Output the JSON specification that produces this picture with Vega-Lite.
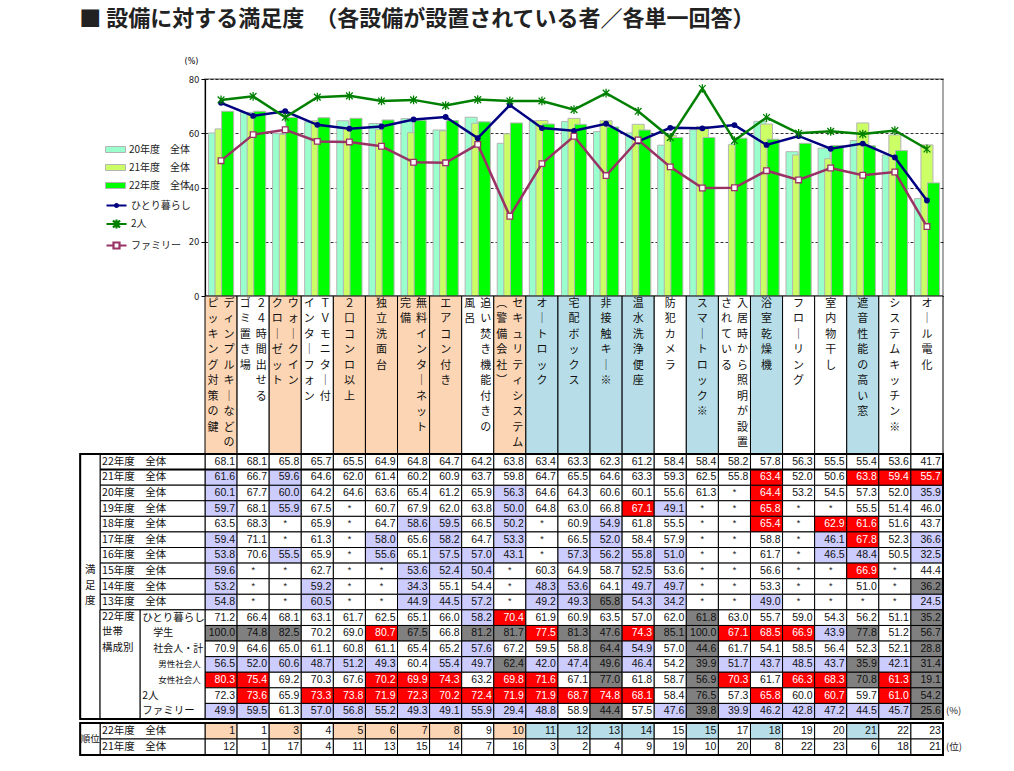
{
"$schema": "https://vega.github.io/schema/vega-lite/v6.json",
"background": "white",
"padding": {"left": 79, "top": 8, "right": 5, "bottom": 5},
"title": {"text": "■ 設備に対する満足度　（各設備が設置されている者／各単一回答）", "anchor": "start", "fontSize": 22, "fontWeight": "bold", "font": "Noto Sans CJK JP", "color": "#222222", "offset": 25},
"config": {"font": "Noto Sans CJK JP", "view": {"stroke": null}},
"spacing": 0,
"bounds": "flush",
"resolve": {"scale": {"x": "independent", "y": "independent", "color": "independent", "fill": "independent", "stroke": "independent", "shape": "independent"}, "legend": {"color": "independent", "fill": "independent", "stroke": "independent", "shape": "independent"}},
"datasets": {
"cats": [
{"c":1,"grp":"A","r":"ディンプルキーなどの","l":"ピッキング対策の鍵"},
{"c":2,"grp":"C","r":"２４時間出せる","l":"ゴミ置き場"},
{"c":3,"grp":"A","r":"ウォークイン","l":"クローゼット"},
{"c":4,"grp":"C","r":"ＴＶモニター付","l":"インターフォン"},
{"c":5,"grp":"A","s":"２口コンロ以上"},
{"c":6,"grp":"A","s":"独立洗面台"},
{"c":7,"grp":"A","r":"無料インターネット","l":"完備"},
{"c":8,"grp":"A","s":"エアコン付き"},
{"c":9,"grp":"C","r":"追い焚き機能付きの","l":"風呂"},
{"c":10,"grp":"A","r":"セキュリティシステム","l":"（警備会社）"},
{"c":11,"grp":"B","s":"オートロック"},
{"c":12,"grp":"B","s":"宅配ボックス"},
{"c":13,"grp":"B","s":"非接触キー※"},
{"c":14,"grp":"B","s":"温水洗浄便座"},
{"c":15,"grp":"C","s":"防犯カメラ"},
{"c":16,"grp":"B","s":"スマートロック※"},
{"c":17,"grp":"C","r":"入居時から照明が設置","l":"されている"},
{"c":18,"grp":"B","s":"浴室乾燥機"},
{"c":19,"grp":"C","s":"フローリング"},
{"c":20,"grp":"C","s":"室内物干し"},
{"c":21,"grp":"B","s":"遮音性能の高い窓"},
{"c":22,"grp":"C","s":"システムキッチン※"},
{"c":23,"grp":"C","s":"オール電化"}
],
"rowdefs": [
{"row":"22年度　全体","kind":"yr"},{"row":"21年度　全体","kind":"yr"},{"row":"20年度　全体","kind":"yr"},{"row":"19年度　全体","kind":"yr"},{"row":"18年度　全体","kind":"yr"},{"row":"17年度　全体","kind":"yr"},{"row":"16年度　全体","kind":"yr"},{"row":"15年度　全体","kind":"yr"},{"row":"14年度　全体","kind":"yr"},{"row":"13年度　全体","kind":"yr"},
{"row":"ひとり暮らし","kind":"h0"},{"row":"学生","kind":"h1"},{"row":"社会人・計","kind":"h1"},{"row":"男性社会人","kind":"h2"},{"row":"女性社会人","kind":"h2"},{"row":"2人","kind":"h0"},{"row":"ファミリー","kind":"h0"}
],
"rank": [
{"c":1,"yr":"22年度　全体","v":1},{"c":2,"yr":"22年度　全体","v":1},{"c":3,"yr":"22年度　全体","v":3},{"c":4,"yr":"22年度　全体","v":4},{"c":5,"yr":"22年度　全体","v":5},{"c":6,"yr":"22年度　全体","v":6},{"c":7,"yr":"22年度　全体","v":7},{"c":8,"yr":"22年度　全体","v":8},{"c":9,"yr":"22年度　全体","v":9},{"c":10,"yr":"22年度　全体","v":10},{"c":11,"yr":"22年度　全体","v":11},{"c":12,"yr":"22年度　全体","v":12},{"c":13,"yr":"22年度　全体","v":13},{"c":14,"yr":"22年度　全体","v":14},{"c":15,"yr":"22年度　全体","v":15},{"c":16,"yr":"22年度　全体","v":15},{"c":17,"yr":"22年度　全体","v":17},{"c":18,"yr":"22年度　全体","v":18},{"c":19,"yr":"22年度　全体","v":19},{"c":20,"yr":"22年度　全体","v":20},{"c":21,"yr":"22年度　全体","v":21},{"c":22,"yr":"22年度　全体","v":22},{"c":23,"yr":"22年度　全体","v":23},
{"c":1,"yr":"21年度　全体","v":12},{"c":2,"yr":"21年度　全体","v":1},{"c":3,"yr":"21年度　全体","v":17},{"c":4,"yr":"21年度　全体","v":4},{"c":5,"yr":"21年度　全体","v":11},{"c":6,"yr":"21年度　全体","v":13},{"c":7,"yr":"21年度　全体","v":15},{"c":8,"yr":"21年度　全体","v":14},{"c":9,"yr":"21年度　全体","v":7},{"c":10,"yr":"21年度　全体","v":16},{"c":11,"yr":"21年度　全体","v":3},{"c":12,"yr":"21年度　全体","v":2},{"c":13,"yr":"21年度　全体","v":4},{"c":14,"yr":"21年度　全体","v":9},{"c":15,"yr":"21年度　全体","v":19},{"c":16,"yr":"21年度　全体","v":10},{"c":17,"yr":"21年度　全体","v":20},{"c":18,"yr":"21年度　全体","v":8},{"c":19,"yr":"21年度　全体","v":22},{"c":20,"yr":"21年度　全体","v":23},{"c":21,"yr":"21年度　全体","v":6},{"c":22,"yr":"21年度　全体","v":18},{"c":23,"yr":"21年度　全体","v":21}
],
"sat": [
{"c":1,"row":"20年度　全体","v":60.1,"f":"l"},{"c":2,"row":"20年度　全体","v":67.7},{"c":3,"row":"20年度　全体","v":60.0,"f":"l"},{"c":4,"row":"20年度　全体","v":64.2},{"c":5,"row":"20年度　全体","v":64.6},{"c":6,"row":"20年度　全体","v":63.6},{"c":7,"row":"20年度　全体","v":65.4},{"c":8,"row":"20年度　全体","v":61.2},{"c":9,"row":"20年度　全体","v":65.9},{"c":10,"row":"20年度　全体","v":56.3,"f":"l"},{"c":11,"row":"20年度　全体","v":64.6},{"c":12,"row":"20年度　全体","v":64.3},{"c":13,"row":"20年度　全体","v":60.6},{"c":14,"row":"20年度　全体","v":60.1},{"c":15,"row":"20年度　全体","v":55.6},{"c":16,"row":"20年度　全体","v":61.3},{"c":17,"row":"20年度　全体","v":null},{"c":18,"row":"20年度　全体","v":64.4,"f":"r"},{"c":19,"row":"20年度　全体","v":53.2},{"c":20,"row":"20年度　全体","v":54.5},{"c":21,"row":"20年度　全体","v":57.3},{"c":22,"row":"20年度　全体","v":52.0},{"c":23,"row":"20年度　全体","v":35.9,"f":"l"},
{"c":1,"row":"21年度　全体","v":61.6,"f":"l"},{"c":2,"row":"21年度　全体","v":66.7},{"c":3,"row":"21年度　全体","v":59.6,"f":"l"},{"c":4,"row":"21年度　全体","v":64.6},{"c":5,"row":"21年度　全体","v":62.0},{"c":6,"row":"21年度　全体","v":61.4},{"c":7,"row":"21年度　全体","v":60.2},{"c":8,"row":"21年度　全体","v":60.9},{"c":9,"row":"21年度　全体","v":63.7},{"c":10,"row":"21年度　全体","v":59.8},{"c":11,"row":"21年度　全体","v":64.7},{"c":12,"row":"21年度　全体","v":65.5},{"c":13,"row":"21年度　全体","v":64.6},{"c":14,"row":"21年度　全体","v":63.3},{"c":15,"row":"21年度　全体","v":59.3},{"c":16,"row":"21年度　全体","v":62.5},{"c":17,"row":"21年度　全体","v":55.8},{"c":18,"row":"21年度　全体","v":63.4,"f":"r"},{"c":19,"row":"21年度　全体","v":52.0},{"c":20,"row":"21年度　全体","v":50.6},{"c":21,"row":"21年度　全体","v":63.8,"f":"r"},{"c":22,"row":"21年度　全体","v":59.4,"f":"r"},{"c":23,"row":"21年度　全体","v":55.7,"f":"r"},
{"c":1,"row":"22年度　全体","v":68.1},{"c":2,"row":"22年度　全体","v":68.1},{"c":3,"row":"22年度　全体","v":65.8},{"c":4,"row":"22年度　全体","v":65.7},{"c":5,"row":"22年度　全体","v":65.5},{"c":6,"row":"22年度　全体","v":64.9},{"c":7,"row":"22年度　全体","v":64.8},{"c":8,"row":"22年度　全体","v":64.7},{"c":9,"row":"22年度　全体","v":64.2},{"c":10,"row":"22年度　全体","v":63.8},{"c":11,"row":"22年度　全体","v":63.4},{"c":12,"row":"22年度　全体","v":63.3},{"c":13,"row":"22年度　全体","v":62.3},{"c":14,"row":"22年度　全体","v":61.2},{"c":15,"row":"22年度　全体","v":58.4},{"c":16,"row":"22年度　全体","v":58.4},{"c":17,"row":"22年度　全体","v":58.2},{"c":18,"row":"22年度　全体","v":57.8},{"c":19,"row":"22年度　全体","v":56.3},{"c":20,"row":"22年度　全体","v":55.5},{"c":21,"row":"22年度　全体","v":55.4},{"c":22,"row":"22年度　全体","v":53.6},{"c":23,"row":"22年度　全体","v":41.7},
{"c":1,"row":"19年度　全体","v":59.7,"f":"l"},{"c":2,"row":"19年度　全体","v":68.1},{"c":3,"row":"19年度　全体","v":55.9,"f":"l"},{"c":4,"row":"19年度　全体","v":67.5},{"c":5,"row":"19年度　全体","v":null},{"c":6,"row":"19年度　全体","v":60.7},{"c":7,"row":"19年度　全体","v":67.9},{"c":8,"row":"19年度　全体","v":62.0},{"c":9,"row":"19年度　全体","v":63.8},{"c":10,"row":"19年度　全体","v":50.0,"f":"l"},{"c":11,"row":"19年度　全体","v":64.8},{"c":12,"row":"19年度　全体","v":63.0},{"c":13,"row":"19年度　全体","v":66.8},{"c":14,"row":"19年度　全体","v":67.1,"f":"r"},{"c":15,"row":"19年度　全体","v":49.1,"f":"l"},{"c":16,"row":"19年度　全体","v":null},{"c":17,"row":"19年度　全体","v":null},{"c":18,"row":"19年度　全体","v":65.8,"f":"r"},{"c":19,"row":"19年度　全体","v":null},{"c":20,"row":"19年度　全体","v":null},{"c":21,"row":"19年度　全体","v":55.5},{"c":22,"row":"19年度　全体","v":51.4},{"c":23,"row":"19年度　全体","v":46.0},
{"c":1,"row":"18年度　全体","v":63.5},{"c":2,"row":"18年度　全体","v":68.3},{"c":3,"row":"18年度　全体","v":null},{"c":4,"row":"18年度　全体","v":65.9},{"c":5,"row":"18年度　全体","v":null},{"c":6,"row":"18年度　全体","v":64.7},{"c":7,"row":"18年度　全体","v":58.6,"f":"l"},{"c":8,"row":"18年度　全体","v":59.5,"f":"l"},{"c":9,"row":"18年度　全体","v":66.5},{"c":10,"row":"18年度　全体","v":50.2,"f":"l"},{"c":11,"row":"18年度　全体","v":null},{"c":12,"row":"18年度　全体","v":60.9},{"c":13,"row":"18年度　全体","v":54.9,"f":"l"},{"c":14,"row":"18年度　全体","v":61.8},{"c":15,"row":"18年度　全体","v":55.5},{"c":16,"row":"18年度　全体","v":null},{"c":17,"row":"18年度　全体","v":null},{"c":18,"row":"18年度　全体","v":65.4,"f":"r"},{"c":19,"row":"18年度　全体","v":null},{"c":20,"row":"18年度　全体","v":62.9,"f":"r"},{"c":21,"row":"18年度　全体","v":61.6,"f":"r"},{"c":22,"row":"18年度　全体","v":51.6},{"c":23,"row":"18年度　全体","v":43.7},
{"c":1,"row":"17年度　全体","v":59.4,"f":"l"},{"c":2,"row":"17年度　全体","v":71.1},{"c":3,"row":"17年度　全体","v":null},{"c":4,"row":"17年度　全体","v":61.3},{"c":5,"row":"17年度　全体","v":null},{"c":6,"row":"17年度　全体","v":58.0,"f":"l"},{"c":7,"row":"17年度　全体","v":65.6},{"c":8,"row":"17年度　全体","v":58.2,"f":"l"},{"c":9,"row":"17年度　全体","v":64.7},{"c":10,"row":"17年度　全体","v":53.3,"f":"l"},{"c":11,"row":"17年度　全体","v":null},{"c":12,"row":"17年度　全体","v":66.5},{"c":13,"row":"17年度　全体","v":52.0,"f":"l"},{"c":14,"row":"17年度　全体","v":58.4},{"c":15,"row":"17年度　全体","v":57.9},{"c":16,"row":"17年度　全体","v":null},{"c":17,"row":"17年度　全体","v":null},{"c":18,"row":"17年度　全体","v":58.8},{"c":19,"row":"17年度　全体","v":null},{"c":20,"row":"17年度　全体","v":46.1,"f":"l"},{"c":21,"row":"17年度　全体","v":67.8,"f":"r"},{"c":22,"row":"17年度　全体","v":52.3},{"c":23,"row":"17年度　全体","v":36.6,"f":"l"},
{"c":1,"row":"16年度　全体","v":53.8,"f":"l"},{"c":2,"row":"16年度　全体","v":70.6},{"c":3,"row":"16年度　全体","v":55.5,"f":"l"},{"c":4,"row":"16年度　全体","v":65.9},{"c":5,"row":"16年度　全体","v":null},{"c":6,"row":"16年度　全体","v":55.6,"f":"l"},{"c":7,"row":"16年度　全体","v":65.1},{"c":8,"row":"16年度　全体","v":57.5,"f":"l"},{"c":9,"row":"16年度　全体","v":57.0,"f":"l"},{"c":10,"row":"16年度　全体","v":43.1,"f":"l"},{"c":11,"row":"16年度　全体","v":null},{"c":12,"row":"16年度　全体","v":57.3,"f":"l"},{"c":13,"row":"16年度　全体","v":56.2,"f":"l"},{"c":14,"row":"16年度　全体","v":55.8,"f":"l"},{"c":15,"row":"16年度　全体","v":51.0,"f":"l"},{"c":16,"row":"16年度　全体","v":null},{"c":17,"row":"16年度　全体","v":null},{"c":18,"row":"16年度　全体","v":61.7},{"c":19,"row":"16年度　全体","v":null},{"c":20,"row":"16年度　全体","v":46.5,"f":"l"},{"c":21,"row":"16年度　全体","v":48.4,"f":"l"},{"c":22,"row":"16年度　全体","v":50.5},{"c":23,"row":"16年度　全体","v":32.5,"f":"l"},
{"c":1,"row":"15年度　全体","v":59.6,"f":"l"},{"c":2,"row":"15年度　全体","v":null},{"c":3,"row":"15年度　全体","v":null},{"c":4,"row":"15年度　全体","v":62.7},{"c":5,"row":"15年度　全体","v":null},{"c":6,"row":"15年度　全体","v":null},{"c":7,"row":"15年度　全体","v":53.6,"f":"l"},{"c":8,"row":"15年度　全体","v":52.4,"f":"l"},{"c":9,"row":"15年度　全体","v":50.4,"f":"l"},{"c":10,"row":"15年度　全体","v":null},{"c":11,"row":"15年度　全体","v":60.3},{"c":12,"row":"15年度　全体","v":64.9},{"c":13,"row":"15年度　全体","v":58.7},{"c":14,"row":"15年度　全体","v":52.5,"f":"l"},{"c":15,"row":"15年度　全体","v":53.6},{"c":16,"row":"15年度　全体","v":null},{"c":17,"row":"15年度　全体","v":null},{"c":18,"row":"15年度　全体","v":56.6},{"c":19,"row":"15年度　全体","v":null},{"c":20,"row":"15年度　全体","v":null},{"c":21,"row":"15年度　全体","v":66.9,"f":"r"},{"c":22,"row":"15年度　全体","v":null},{"c":23,"row":"15年度　全体","v":44.4},
{"c":1,"row":"14年度　全体","v":53.2,"f":"l"},{"c":2,"row":"14年度　全体","v":null},{"c":3,"row":"14年度　全体","v":null},{"c":4,"row":"14年度　全体","v":59.2,"f":"l"},{"c":5,"row":"14年度　全体","v":null},{"c":6,"row":"14年度　全体","v":null},{"c":7,"row":"14年度　全体","v":34.3,"f":"l"},{"c":8,"row":"14年度　全体","v":55.1},{"c":9,"row":"14年度　全体","v":54.4},{"c":10,"row":"14年度　全体","v":null},{"c":11,"row":"14年度　全体","v":48.3,"f":"l"},{"c":12,"row":"14年度　全体","v":53.6,"f":"l"},{"c":13,"row":"14年度　全体","v":64.1},{"c":14,"row":"14年度　全体","v":49.7,"f":"l"},{"c":15,"row":"14年度　全体","v":49.7,"f":"l"},{"c":16,"row":"14年度　全体","v":null},{"c":17,"row":"14年度　全体","v":null},{"c":18,"row":"14年度　全体","v":53.3},{"c":19,"row":"14年度　全体","v":null},{"c":20,"row":"14年度　全体","v":null},{"c":21,"row":"14年度　全体","v":51.0},{"c":22,"row":"14年度　全体","v":null},{"c":23,"row":"14年度　全体","v":36.2,"f":"g"},
{"c":1,"row":"13年度　全体","v":54.8,"f":"l"},{"c":2,"row":"13年度　全体","v":null},{"c":3,"row":"13年度　全体","v":null},{"c":4,"row":"13年度　全体","v":60.5,"f":"l"},{"c":5,"row":"13年度　全体","v":null},{"c":6,"row":"13年度　全体","v":null},{"c":7,"row":"13年度　全体","v":44.9,"f":"l"},{"c":8,"row":"13年度　全体","v":44.5,"f":"l"},{"c":9,"row":"13年度　全体","v":57.2,"f":"l"},{"c":10,"row":"13年度　全体","v":null},{"c":11,"row":"13年度　全体","v":49.2,"f":"l"},{"c":12,"row":"13年度　全体","v":49.3,"f":"l"},{"c":13,"row":"13年度　全体","v":65.8,"f":"g"},{"c":14,"row":"13年度　全体","v":54.3,"f":"l"},{"c":15,"row":"13年度　全体","v":34.2,"f":"l"},{"c":16,"row":"13年度　全体","v":null},{"c":17,"row":"13年度　全体","v":null},{"c":18,"row":"13年度　全体","v":49.0,"f":"l"},{"c":19,"row":"13年度　全体","v":null},{"c":20,"row":"13年度　全体","v":null},{"c":21,"row":"13年度　全体","v":null},{"c":22,"row":"13年度　全体","v":null},{"c":23,"row":"13年度　全体","v":24.5,"f":"l"},
{"c":1,"row":"ひとり暮らし","v":71.2},{"c":2,"row":"ひとり暮らし","v":66.4},{"c":3,"row":"ひとり暮らし","v":68.1},{"c":4,"row":"ひとり暮らし","v":63.1},{"c":5,"row":"ひとり暮らし","v":61.7},{"c":6,"row":"ひとり暮らし","v":62.5},{"c":7,"row":"ひとり暮らし","v":65.1},{"c":8,"row":"ひとり暮らし","v":66.0},{"c":9,"row":"ひとり暮らし","v":58.2,"f":"l"},{"c":10,"row":"ひとり暮らし","v":70.4,"f":"r"},{"c":11,"row":"ひとり暮らし","v":61.9},{"c":12,"row":"ひとり暮らし","v":60.9},{"c":13,"row":"ひとり暮らし","v":63.5},{"c":14,"row":"ひとり暮らし","v":57.0},{"c":15,"row":"ひとり暮らし","v":62.0},{"c":16,"row":"ひとり暮らし","v":61.8,"f":"g"},{"c":17,"row":"ひとり暮らし","v":63.0},{"c":18,"row":"ひとり暮らし","v":55.7},{"c":19,"row":"ひとり暮らし","v":59.0},{"c":20,"row":"ひとり暮らし","v":54.3},{"c":21,"row":"ひとり暮らし","v":56.2},{"c":22,"row":"ひとり暮らし","v":51.1},{"c":23,"row":"ひとり暮らし","v":35.2,"f":"g"},
{"c":1,"row":"学生","v":100.0,"f":"g"},{"c":2,"row":"学生","v":74.8,"f":"g"},{"c":3,"row":"学生","v":82.5,"f":"g"},{"c":4,"row":"学生","v":70.2},{"c":5,"row":"学生","v":69.0},{"c":6,"row":"学生","v":80.7,"f":"r"},{"c":7,"row":"学生","v":67.5,"f":"g"},{"c":8,"row":"学生","v":66.8},{"c":9,"row":"学生","v":81.2,"f":"g"},{"c":10,"row":"学生","v":81.7,"f":"g"},{"c":11,"row":"学生","v":77.5,"f":"r"},{"c":12,"row":"学生","v":81.3,"f":"g"},{"c":13,"row":"学生","v":47.6,"f":"g"},{"c":14,"row":"学生","v":74.3,"f":"r"},{"c":15,"row":"学生","v":85.1,"f":"g"},{"c":16,"row":"学生","v":100.0,"f":"g"},{"c":17,"row":"学生","v":67.1,"f":"r"},{"c":18,"row":"学生","v":68.5,"f":"r"},{"c":19,"row":"学生","v":66.9,"f":"r"},{"c":20,"row":"学生","v":43.9,"f":"l"},{"c":21,"row":"学生","v":77.8,"f":"g"},{"c":22,"row":"学生","v":51.2},{"c":23,"row":"学生","v":56.7,"f":"g"},
{"c":1,"row":"社会人・計","v":70.9},{"c":2,"row":"社会人・計","v":64.6},{"c":3,"row":"社会人・計","v":65.0},{"c":4,"row":"社会人・計","v":61.1},{"c":5,"row":"社会人・計","v":60.8},{"c":6,"row":"社会人・計","v":61.1},{"c":7,"row":"社会人・計","v":65.4},{"c":8,"row":"社会人・計","v":65.2},{"c":9,"row":"社会人・計","v":57.6,"f":"l"},{"c":10,"row":"社会人・計","v":67.2},{"c":11,"row":"社会人・計","v":59.5},{"c":12,"row":"社会人・計","v":58.8},{"c":13,"row":"社会人・計","v":64.4,"f":"g"},{"c":14,"row":"社会人・計","v":54.9,"f":"l"},{"c":15,"row":"社会人・計","v":57.0},{"c":16,"row":"社会人・計","v":44.6,"f":"g"},{"c":17,"row":"社会人・計","v":61.7},{"c":18,"row":"社会人・計","v":54.1},{"c":19,"row":"社会人・計","v":58.5},{"c":20,"row":"社会人・計","v":56.4},{"c":21,"row":"社会人・計","v":52.3},{"c":22,"row":"社会人・計","v":52.1},{"c":23,"row":"社会人・計","v":28.8,"f":"g"},
{"c":1,"row":"男性社会人","v":56.5,"f":"l"},{"c":2,"row":"男性社会人","v":52.0,"f":"l"},{"c":3,"row":"男性社会人","v":60.6,"f":"l"},{"c":4,"row":"男性社会人","v":48.7,"f":"l"},{"c":5,"row":"男性社会人","v":51.2,"f":"l"},{"c":6,"row":"男性社会人","v":49.3,"f":"l"},{"c":7,"row":"男性社会人","v":60.4},{"c":8,"row":"男性社会人","v":55.4,"f":"l"},{"c":9,"row":"男性社会人","v":49.7,"f":"l"},{"c":10,"row":"男性社会人","v":62.4,"f":"g"},{"c":11,"row":"男性社会人","v":42.0,"f":"l"},{"c":12,"row":"男性社会人","v":47.4,"f":"l"},{"c":13,"row":"男性社会人","v":49.6,"f":"g"},{"c":14,"row":"男性社会人","v":46.4,"f":"l"},{"c":15,"row":"男性社会人","v":54.2},{"c":16,"row":"男性社会人","v":39.9,"f":"g"},{"c":17,"row":"男性社会人","v":51.7,"f":"l"},{"c":18,"row":"男性社会人","v":43.7,"f":"l"},{"c":19,"row":"男性社会人","v":48.5,"f":"l"},{"c":20,"row":"男性社会人","v":43.7,"f":"l"},{"c":21,"row":"男性社会人","v":35.9,"f":"g"},{"c":22,"row":"男性社会人","v":42.1,"f":"l"},{"c":23,"row":"男性社会人","v":31.4,"f":"g"},
{"c":1,"row":"女性社会人","v":80.3,"f":"r"},{"c":2,"row":"女性社会人","v":75.4,"f":"r"},{"c":3,"row":"女性社会人","v":69.2},{"c":4,"row":"女性社会人","v":70.3},{"c":5,"row":"女性社会人","v":67.6},{"c":6,"row":"女性社会人","v":70.2,"f":"r"},{"c":7,"row":"女性社会人","v":69.9,"f":"r"},{"c":8,"row":"女性社会人","v":74.3,"f":"r"},{"c":9,"row":"女性社会人","v":63.2},{"c":10,"row":"女性社会人","v":69.8,"f":"r"},{"c":11,"row":"女性社会人","v":71.6,"f":"r"},{"c":12,"row":"女性社会人","v":67.1},{"c":13,"row":"女性社会人","v":77.0,"f":"g"},{"c":14,"row":"女性社会人","v":61.8},{"c":15,"row":"女性社会人","v":58.7},{"c":16,"row":"女性社会人","v":56.9,"f":"g"},{"c":17,"row":"女性社会人","v":70.3,"f":"r"},{"c":18,"row":"女性社会人","v":61.7},{"c":19,"row":"女性社会人","v":66.3,"f":"r"},{"c":20,"row":"女性社会人","v":68.3,"f":"r"},{"c":21,"row":"女性社会人","v":70.8,"f":"g"},{"c":22,"row":"女性社会人","v":61.3,"f":"r"},{"c":23,"row":"女性社会人","v":19.1,"f":"g"},
{"c":1,"row":"2人","v":72.3},{"c":2,"row":"2人","v":73.6,"f":"r"},{"c":3,"row":"2人","v":65.9},{"c":4,"row":"2人","v":73.3,"f":"r"},{"c":5,"row":"2人","v":73.8,"f":"r"},{"c":6,"row":"2人","v":71.9,"f":"r"},{"c":7,"row":"2人","v":72.3,"f":"r"},{"c":8,"row":"2人","v":70.2,"f":"r"},{"c":9,"row":"2人","v":72.4,"f":"r"},{"c":10,"row":"2人","v":71.9,"f":"r"},{"c":11,"row":"2人","v":71.9,"f":"r"},{"c":12,"row":"2人","v":68.7,"f":"r"},{"c":13,"row":"2人","v":74.8,"f":"r"},{"c":14,"row":"2人","v":68.1,"f":"r"},{"c":15,"row":"2人","v":58.4},{"c":16,"row":"2人","v":76.5,"f":"g"},{"c":17,"row":"2人","v":57.3},{"c":18,"row":"2人","v":65.8,"f":"r"},{"c":19,"row":"2人","v":60.0},{"c":20,"row":"2人","v":60.7,"f":"r"},{"c":21,"row":"2人","v":59.7},{"c":22,"row":"2人","v":61.0,"f":"r"},{"c":23,"row":"2人","v":54.2,"f":"g"},
{"c":1,"row":"ファミリー","v":49.9,"f":"l"},{"c":2,"row":"ファミリー","v":59.5,"f":"l"},{"c":3,"row":"ファミリー","v":61.3},{"c":4,"row":"ファミリー","v":57.0,"f":"l"},{"c":5,"row":"ファミリー","v":56.8,"f":"l"},{"c":6,"row":"ファミリー","v":55.2,"f":"l"},{"c":7,"row":"ファミリー","v":49.3,"f":"l"},{"c":8,"row":"ファミリー","v":49.1,"f":"l"},{"c":9,"row":"ファミリー","v":55.9,"f":"l"},{"c":10,"row":"ファミリー","v":29.4,"f":"l"},{"c":11,"row":"ファミリー","v":48.8,"f":"l"},{"c":12,"row":"ファミリー","v":58.9},{"c":13,"row":"ファミリー","v":44.4,"f":"g"},{"c":14,"row":"ファミリー","v":57.5},{"c":15,"row":"ファミリー","v":47.6,"f":"l"},{"c":16,"row":"ファミリー","v":39.8,"f":"g"},{"c":17,"row":"ファミリー","v":39.9,"f":"l"},{"c":18,"row":"ファミリー","v":46.2,"f":"l"},{"c":19,"row":"ファミリー","v":42.8,"f":"l"},{"c":20,"row":"ファミリー","v":47.2,"f":"l"},{"c":21,"row":"ファミリー","v":44.5,"f":"l"},{"c":22,"row":"ファミリー","v":45.7,"f":"l"},{"c":23,"row":"ファミリー","v":25.6,"f":"g"}
]
},
"vconcat": [
{
"width": 738, "height": 217,
"view": {"stroke": "#8c8c8c", "strokeWidth": 1.5},
"data": {"name": "sat"},
"layer": [
{"transform": [{"filter": {"field": "row", "oneOf": ["20年度　全体", "21年度　全体", "22年度　全体"]}}, {"filter": "isValid(datum.v)"}],
 "mark": {"type": "bar", "width": 12, "stroke": "#b4b4b4", "strokeWidth": 1},
 "encoding": {
  "x": {"field": "c", "type": "ordinal", "scale": {"domain": [1,2,3,4,5,6,7,8,9,10,11,12,13,14,15,16,17,18,19,20,21,22,23], "paddingInner": 0.1, "paddingOuter": 0.05}, "axis": {"labels": false, "ticks": false, "title": null, "domainColor": "#000000", "domainWidth": 1.2}},
  "xOffset": {"field": "row", "type": "nominal", "scale": {"domain": ["20年度　全体", "21年度　全体", "22年度　全体"], "paddingInner": 0, "paddingOuter": 0.69}},
  "y": {"field": "v", "type": "quantitative", "stack": null, "scale": {"domain": [0, 80], "nice": false},
        "axis": {"values": [0, 20, 40, 60, 80], "title": "(%)", "titleAngle": 0, "titleAlign": "center", "titleBaseline": "bottom", "titleX": -14, "titleY": -14, "titleFontSize": 8, "titleFontWeight": "normal", "titleFont": "DejaVu Sans", "labelFont": "DejaVu Sans", "labelFontSize": 8.5, "labelColor": "#222222", "tickSize": 4, "tickColor": "#000000", "domainColor": "#000000", "domainWidth": 1.2, "grid": true, "gridColor": "#000000", "gridDash": [3, 2], "gridWidth": 0.8, "labelPadding": 2}},
  "fill": {"field": "row", "type": "nominal", "scale": {"domain": ["20年度　全体", "21年度　全体", "22年度　全体"], "range": ["#99ffcc", "#ccff66", "#00ff00"]},
           "legend": {"title": null, "orient": "none", "legendX": -100, "legendY": 60, "symbolType": "M-1,-0.3H1V0.3H-1Z", "symbolSize": 400, "symbolStrokeColor": "#b4b4b4", "symbolStrokeWidth": 1, "labelFontSize": 10, "labelColor": "#222222", "labelOffset": 3, "rowPadding": 2}}
 }},
{"transform": [{"filter": {"field": "row", "oneOf": ["ひとり暮らし", "2人", "ファミリー"]}}],
 "mark": {"type": "line", "strokeWidth": 2.5},
 "encoding": {
  "x": {"field": "c", "type": "ordinal"},
  "y": {"field": "v", "type": "quantitative"},
  "stroke": {"field": "row", "type": "nominal", "scale": {"domain": ["ひとり暮らし", "2人", "ファミリー"], "range": ["#000080", "#008000", "#993366"]},
             "legend": {"title": null, "orient": "none", "legendX": -100, "legendY": 115, "symbolSize": 400, "symbolStrokeWidth": 2.2, "symbolFillColor": "transparent", "labelFontSize": 10, "labelColor": "#222222", "labelOffset": 3, "rowPadding": 0.5}}
 }},
{"transform": [{"filter": "false"}],
 "mark": {"type": "point", "filled": false, "opacity": 1},
 "encoding": {
  "x": {"field": "c", "type": "ordinal"},
  "y": {"field": "v", "type": "quantitative"},
  "stroke": {"field": "row", "type": "nominal",
             "legend": {"title": null, "orient": "none", "legendX": -100, "legendY": 115, "symbolSize": 400, "symbolStrokeWidth": 2.2, "symbolFillColor": "transparent", "labelFontSize": 10, "labelColor": "#222222", "labelOffset": 3, "rowPadding": 0.5}},
  "shape": {"field": "row", "type": "nominal", "scale": {"domain": ["ひとり暮らし", "2人", "ファミリー"], "range": ["M-1,0H1M-0.15,0A0.15,0.15 0 1 1 0.15,0A0.15,0.15 0 1 1 -0.15,0", "M-1,0H1M-0.35,-0.35L0.35,0.35M-0.35,0.35L0.35,-0.35M0,-0.45V0.45", "M-1,0H-0.3M0.3,0H1M-0.3,-0.3H0.3V0.3H-0.3Z"]},
            "legend": {"title": null, "orient": "none", "legendX": -100, "legendY": 115, "symbolSize": 400, "symbolStrokeWidth": 2.2, "symbolFillColor": "transparent", "labelFontSize": 10, "labelColor": "#222222", "labelOffset": 3, "rowPadding": 0.5}}
 }},
{"transform": [{"filter": "datum.row === 'ひとり暮らし'"}],
 "mark": {"type": "point", "shape": "circle", "filled": true, "color": "#000080", "size": 34, "opacity": 1},
 "encoding": {"x": {"field": "c", "type": "ordinal"}, "y": {"field": "v", "type": "quantitative"}}},
{"transform": [{"filter": "datum.row === '2人'"}],
 "mark": {"type": "point", "shape": "M-1,-1L1,1M-1,1L1,-1M0,-1.3V1.3", "filled": false, "stroke": "#008000", "strokeWidth": 1.3, "size": 45, "opacity": 1},
 "encoding": {"x": {"field": "c", "type": "ordinal"}, "y": {"field": "v", "type": "quantitative"}}},
{"transform": [{"filter": "datum.row === 'ファミリー'"}],
 "mark": {"type": "point", "shape": "square", "filled": true, "fill": "#ffffff", "stroke": "#993366", "strokeWidth": 1.3, "size": 32, "opacity": 1},
 "encoding": {"x": {"field": "c", "type": "ordinal"}, "y": {"field": "v", "type": "quantitative"}}}
]
},
{
"width": 738, "height": 158,
"data": {"name": "cats"},
"layer": [
{"mark": {"type": "rect", "stroke": "#000000", "strokeWidth": 1},
 "encoding": {
  "x": {"field": "c", "type": "ordinal", "scale": {"domain": [1,2,3,4,5,6,7,8,9,10,11,12,13,14,15,16,17,18,19,20,21,22,23], "paddingInner": 0, "paddingOuter": 0}, "axis": null},
  "color": {"field": "grp", "type": "nominal", "scale": {"domain": ["A", "B", "C"], "range": ["#fcd5b4", "#b7dee8", "#ffffff"]}, "legend": null}
 }},
{"transform": [{"filter": "isValid(datum.r)"}, {"calculate": "split(replace(replace(replace(datum.r, regexp('ー','g'), '｜'), '（', '︵'), '）', '︶'), '')", "as": "ch"}, {"flatten": ["ch"]}, {"window": [{"op": "row_number", "as": "k"}], "groupby": ["c"]}],
 "mark": {"type": "text", "baseline": "middle", "align": "center", "dx": 8, "fontSize": 11, "color": "#111111"},
 "encoding": {"x": {"field": "c", "type": "ordinal"}, "y": {"field": "k", "type": "quantitative", "scale": {"domain": [0.5, 10.69], "reverse": true, "nice": false, "zero": false}, "axis": null}, "text": {"field": "ch"}}},
{"transform": [{"filter": "isValid(datum.l)"}, {"calculate": "split(replace(replace(replace(datum.l, regexp('ー','g'), '｜'), '（', '︵'), '）', '︶'), '')", "as": "ch"}, {"flatten": ["ch"]}, {"window": [{"op": "row_number", "as": "k"}], "groupby": ["c"]}],
 "mark": {"type": "text", "baseline": "middle", "align": "center", "dx": -8, "fontSize": 11, "color": "#111111"},
 "encoding": {"x": {"field": "c", "type": "ordinal"}, "y": {"field": "k", "type": "quantitative"}, "text": {"field": "ch"}}},
{"transform": [{"filter": "isValid(datum.s)"}, {"calculate": "split(replace(datum.s, regexp('ー','g'), '｜'), '')", "as": "ch"}, {"flatten": ["ch"]}, {"window": [{"op": "row_number", "as": "k"}], "groupby": ["c"]}],
 "mark": {"type": "text", "baseline": "middle", "align": "center", "fontSize": 11, "color": "#111111"},
 "encoding": {"x": {"field": "c", "type": "ordinal"}, "y": {"field": "k", "type": "quantitative"}, "text": {"field": "ch"}}}
]
},
{
"width": 738, "height": 265,
"resolve": {"scale": {"x": "independent", "y": "independent", "color": "independent"}},
"layer": [
{"data": {"name": "sat"}, "transform": [{"calculate": "datum.f ? datum.f : 'w'", "as": "fl"}],
 "mark": {"type": "rect", "stroke": "#000000", "strokeWidth": 1},
 "encoding": {
  "x": {"field": "c", "type": "ordinal", "scale": {"domain": [1,2,3,4,5,6,7,8,9,10,11,12,13,14,15,16,17,18,19,20,21,22,23], "paddingInner": 0, "paddingOuter": 0}, "axis": null},
  "y": {"field": "row", "type": "ordinal", "scale": {"domain": ["22年度　全体","21年度　全体","20年度　全体","19年度　全体","18年度　全体","17年度　全体","16年度　全体","15年度　全体","14年度　全体","13年度　全体","ひとり暮らし","学生","社会人・計","男性社会人","女性社会人","2人","ファミリー"], "paddingInner": 0, "paddingOuter": 0}, "axis": null},
  "color": {"field": "fl", "type": "nominal", "scale": {"domain": ["w", "l", "r", "g"], "range": ["#ffffff", "#ccccff", "#ff0000", "#808080"]}, "legend": null}
 }},
{"data": {"name": "sat"}, "transform": [{"filter": "isValid(datum.v)"}, {"calculate": "format(datum.v, '.1f')", "as": "t"}],
 "mark": {"type": "text", "align": "right", "baseline": "middle", "dx": 14, "fontSize": 10.5, "font": "Liberation Sans"},
 "encoding": {
  "x": {"field": "c", "type": "ordinal", "scale": {"domain": [1,2,3,4,5,6,7,8,9,10,11,12,13,14,15,16,17,18,19,20,21,22,23], "paddingInner": 0, "paddingOuter": 0}, "axis": null},
  "y": {"field": "row", "type": "ordinal", "scale": {"domain": ["22年度　全体","21年度　全体","20年度　全体","19年度　全体","18年度　全体","17年度　全体","16年度　全体","15年度　全体","14年度　全体","13年度　全体","ひとり暮らし","学生","社会人・計","男性社会人","女性社会人","2人","ファミリー"], "paddingInner": 0, "paddingOuter": 0}, "axis": null},
  "text": {"field": "t"},
  "color": {"condition": {"test": "datum.f === 'r'", "value": "#ffffff"}, "value": "#111111"}
 }},
{"data": {"name": "sat"}, "transform": [{"filter": "!isValid(datum.v)"}],
 "mark": {"type": "text", "align": "center", "baseline": "middle", "fontSize": 9, "dy": -1, "text": "*", "color": "#111111", "font": "Liberation Sans"},
 "encoding": {
  "x": {"field": "c", "type": "ordinal", "scale": {"domain": [1,2,3,4,5,6,7,8,9,10,11,12,13,14,15,16,17,18,19,20,21,22,23], "paddingInner": 0, "paddingOuter": 0}, "axis": null},
  "y": {"field": "row", "type": "ordinal", "scale": {"domain": ["22年度　全体","21年度　全体","20年度　全体","19年度　全体","18年度　全体","17年度　全体","16年度　全体","15年度　全体","14年度　全体","13年度　全体","ひとり暮らし","学生","社会人・計","男性社会人","女性社会人","2人","ファミリー"], "paddingInner": 0, "paddingOuter": 0}, "axis": null}
 }},
{"data": {"name": "rowdefs"}, "transform": [{"filter": "datum.kind === 'yr'"}],
 "mark": {"type": "rect", "fill": "#ffffff", "stroke": "#000000", "strokeWidth": 1},
 "encoding": {
  "x": {"datum": -3.27, "type": "quantitative", "scale": {"domain": [0, 23]}, "axis": null},
  "x2": {"datum": 0},
  "y": {"field": "row", "type": "ordinal", "scale": {"domain": ["22年度　全体","21年度　全体","20年度　全体","19年度　全体","18年度　全体","17年度　全体","16年度　全体","15年度　全体","14年度　全体","13年度　全体","ひとり暮らし","学生","社会人・計","男性社会人","女性社会人","2人","ファミリー"], "paddingInner": 0, "paddingOuter": 0}, "axis": null}
 }},
{"data": {"values": [{}]},
 "mark": {"type": "rect", "fill": "#ffffff", "stroke": "#000000", "strokeWidth": 1},
 "encoding": {"x": {"datum": -3.89, "type": "quantitative", "scale": {"domain": [0, 23]}, "axis": null}, "x2": {"datum": -3.27}, "y": {"datum": 0, "type": "quantitative", "scale": {"domain": [0, 17], "reverse": true}, "axis": null}, "y2": {"datum": 17}}},
{"data": {"values": [{}]},
 "mark": {"type": "rect", "fill": "#ffffff", "stroke": "#000000", "strokeWidth": 1},
 "encoding": {"x": {"datum": -3.27, "type": "quantitative", "scale": {"domain": [0, 23]}, "axis": null}, "x2": {"datum": -2.02}, "y": {"datum": 10, "type": "quantitative", "scale": {"domain": [0, 17], "reverse": true}, "axis": null}, "y2": {"datum": 17}}},
{"data": {"values": [{}]},
 "mark": {"type": "rect", "fill": "#ffffff", "stroke": "#000000", "strokeWidth": 1},
 "encoding": {"x": {"datum": -2.02, "type": "quantitative", "scale": {"domain": [0, 23]}, "axis": null}, "x2": {"datum": 0}, "y": {"datum": 10, "type": "quantitative", "scale": {"domain": [0, 17], "reverse": true}, "axis": null}, "y2": {"datum": 17}}},
{"data": {"name": "rowdefs"}, "transform": [{"filter": "datum.kind === 'yr'"}],
 "mark": {"type": "text", "align": "left", "baseline": "middle", "dx": 2, "fontSize": 10.5, "color": "#111111"},
 "encoding": {
  "x": {"datum": -3.27, "type": "quantitative", "scale": {"domain": [0, 23]}, "axis": null},
  "y": {"field": "row", "type": "ordinal", "scale": {"domain": ["22年度　全体","21年度　全体","20年度　全体","19年度　全体","18年度　全体","17年度　全体","16年度　全体","15年度　全体","14年度　全体","13年度　全体","ひとり暮らし","学生","社会人・計","男性社会人","女性社会人","2人","ファミリー"], "paddingInner": 0, "paddingOuter": 0}, "axis": null},
  "text": {"field": "row"}
 }},
{"data": {"name": "rowdefs"}, "transform": [{"filter": "datum.kind === 'h0'"}],
 "mark": {"type": "text", "align": "left", "baseline": "middle", "dx": 2, "fontSize": 10.5, "color": "#111111"},
 "encoding": {
  "x": {"datum": -2.02, "type": "quantitative", "scale": {"domain": [0, 23]}, "axis": null},
  "y": {"field": "row", "type": "ordinal", "scale": {"domain": ["22年度　全体","21年度　全体","20年度　全体","19年度　全体","18年度　全体","17年度　全体","16年度　全体","15年度　全体","14年度　全体","13年度　全体","ひとり暮らし","学生","社会人・計","男性社会人","女性社会人","2人","ファミリー"], "paddingInner": 0, "paddingOuter": 0}, "axis": null},
  "text": {"field": "row"}
 }},
{"data": {"name": "rowdefs"}, "transform": [{"filter": "datum.kind === 'h1'"}],
 "mark": {"type": "text", "align": "left", "baseline": "middle", "dx": 13, "fontSize": 10, "color": "#111111"},
 "encoding": {
  "x": {"datum": -2.02, "type": "quantitative", "scale": {"domain": [0, 23]}, "axis": null},
  "y": {"field": "row", "type": "ordinal", "scale": {"domain": ["22年度　全体","21年度　全体","20年度　全体","19年度　全体","18年度　全体","17年度　全体","16年度　全体","15年度　全体","14年度　全体","13年度　全体","ひとり暮らし","学生","社会人・計","男性社会人","女性社会人","2人","ファミリー"], "paddingInner": 0, "paddingOuter": 0}, "axis": null},
  "text": {"field": "row"}
 }},
{"data": {"name": "rowdefs"}, "transform": [{"filter": "datum.kind === 'h2'"}],
 "mark": {"type": "text", "align": "left", "baseline": "middle", "dx": 18, "fontSize": 8.5, "color": "#111111"},
 "encoding": {
  "x": {"datum": -2.02, "type": "quantitative", "scale": {"domain": [0, 23]}, "axis": null},
  "y": {"field": "row", "type": "ordinal", "scale": {"domain": ["22年度　全体","21年度　全体","20年度　全体","19年度　全体","18年度　全体","17年度　全体","16年度　全体","15年度　全体","14年度　全体","13年度　全体","ひとり暮らし","学生","社会人・計","男性社会人","女性社会人","2人","ファミリー"], "paddingInner": 0, "paddingOuter": 0}, "axis": null},
  "text": {"field": "row"}
 }},
{"data": {"values": [{}]},
 "mark": {"type": "text", "align": "center", "baseline": "top", "dy": 2, "fontSize": 10.5, "lineHeight": 15.6, "text": ["満", "足", "度"], "color": "#111111"},
 "encoding": {"x": {"datum": -3.58, "type": "quantitative", "scale": {"domain": [0, 23]}, "axis": null}, "y": {"datum": 7, "type": "quantitative", "scale": {"domain": [0, 17], "reverse": true}, "axis": null}}},
{"data": {"values": [{}]},
 "mark": {"type": "text", "align": "left", "baseline": "top", "dx": 2, "dy": 2, "fontSize": 10.5, "lineHeight": 15.6, "text": ["22年度", "世帯", "構成別"], "color": "#111111"},
 "encoding": {"x": {"datum": -3.27, "type": "quantitative", "scale": {"domain": [0, 23]}, "axis": null}, "y": {"datum": 10, "type": "quantitative", "scale": {"domain": [0, 17], "reverse": true}, "axis": null}}},
{"data": {"values": [{}]},
 "mark": {"type": "text", "align": "left", "baseline": "middle", "dx": 3, "fontSize": 9.5, "text": "(%)", "color": "#222222"},
 "encoding": {"x": {"datum": 23, "type": "quantitative", "scale": {"domain": [0, 23]}, "axis": null}, "y": {"datum": 16.5, "type": "quantitative", "scale": {"domain": [0, 17], "reverse": true}, "axis": null}}},
{"data": {"values": [{}]},
 "mark": {"type": "rule", "strokeWidth": 2, "color": "#000000"},
 "encoding": {"x": {"datum": -3.27, "type": "quantitative", "scale": {"domain": [0, 23]}, "axis": null}, "x2": {"datum": 23}, "y": {"datum": 1, "type": "quantitative", "scale": {"domain": [0, 17], "reverse": true}, "axis": null}}},
{"data": {"values": [{}]},
 "mark": {"type": "rect", "fillOpacity": 0, "stroke": "#000000", "strokeWidth": 2},
 "encoding": {"x": {"datum": -3.89, "type": "quantitative", "scale": {"domain": [0, 23]}, "axis": null}, "x2": {"datum": 23}, "y": {"datum": 0, "type": "quantitative", "scale": {"domain": [0, 17], "reverse": true}, "axis": null}, "y2": {"datum": 17}}}
]
},
{
"width": 738, "height": 36,
"resolve": {"scale": {"x": "independent", "y": "independent", "color": "independent"}},
"layer": [
{"data": {"name": "rank"}, "transform": [{"lookup": "c", "from": {"data": {"name": "cats"}, "key": "c", "fields": ["grp"]}}],
 "mark": {"type": "rect", "stroke": "#000000", "strokeWidth": 1},
 "encoding": {
  "x": {"field": "c", "type": "ordinal", "scale": {"domain": [1,2,3,4,5,6,7,8,9,10,11,12,13,14,15,16,17,18,19,20,21,22,23], "paddingInner": 0, "paddingOuter": 0}, "axis": null},
  "y": {"field": "yr", "type": "ordinal", "scale": {"domain": ["22年度　全体", "21年度　全体"], "paddingInner": 0, "paddingOuter": 0, "range": [4, 36]}, "axis": null},
  "color": {"condition": {"test": "datum.yr === '21年度　全体'", "value": "#ffffff"}, "field": "grp", "type": "nominal", "scale": {"domain": ["A", "B", "C"], "range": ["#fcd5b4", "#b7dee8", "#ffffff"]}, "legend": null}
 }},
{"data": {"name": "rank"},
 "mark": {"type": "text", "align": "right", "baseline": "middle", "dx": 14, "fontSize": 10.5, "font": "Liberation Sans", "color": "#111111"},
 "encoding": {
  "x": {"field": "c", "type": "ordinal", "scale": {"domain": [1,2,3,4,5,6,7,8,9,10,11,12,13,14,15,16,17,18,19,20,21,22,23], "paddingInner": 0, "paddingOuter": 0}, "axis": null},
  "y": {"field": "yr", "type": "ordinal", "scale": {"domain": ["22年度　全体", "21年度　全体"], "paddingInner": 0, "paddingOuter": 0, "range": [4, 36]}, "axis": null},
  "text": {"field": "v", "type": "quantitative"}
 }},
{"data": {"name": "rank"}, "transform": [{"filter": "datum.c === 1"}],
 "mark": {"type": "rect", "fill": "#ffffff", "stroke": "#000000", "strokeWidth": 1},
 "encoding": {
  "x": {"datum": -3.27, "type": "quantitative", "scale": {"domain": [0, 23]}, "axis": null},
  "x2": {"datum": 0},
  "y": {"field": "yr", "type": "ordinal", "scale": {"domain": ["22年度　全体", "21年度　全体"], "paddingInner": 0, "paddingOuter": 0, "range": [4, 36]}, "axis": null}
 }},
{"data": {"name": "rank"}, "transform": [{"filter": "datum.c === 1"}],
 "mark": {"type": "text", "align": "left", "baseline": "middle", "dx": 2, "fontSize": 10.5, "color": "#111111"},
 "encoding": {
  "x": {"datum": -3.27, "type": "quantitative", "scale": {"domain": [0, 23]}, "axis": null},
  "y": {"field": "yr", "type": "ordinal", "scale": {"domain": ["22年度　全体", "21年度　全体"], "paddingInner": 0, "paddingOuter": 0, "range": [4, 36]}, "axis": null},
  "text": {"field": "yr"}
 }},
{"data": {"values": [{}]},
 "mark": {"type": "rect", "fill": "#ffffff", "stroke": "#000000", "strokeWidth": 1},
 "encoding": {"x": {"datum": -3.89, "type": "quantitative", "scale": {"domain": [0, 23]}, "axis": null}, "x2": {"datum": -3.27}, "y": {"datum": 0, "type": "quantitative", "scale": {"domain": [0, 2], "range": [4, 36]}, "axis": null}, "y2": {"datum": 2}}},
{"data": {"values": [{}]},
 "mark": {"type": "text", "align": "center", "baseline": "middle", "fontSize": 9.5, "text": "順位", "color": "#111111"},
 "encoding": {"x": {"datum": -3.58, "type": "quantitative", "scale": {"domain": [0, 23]}, "axis": null}, "y": {"datum": 1, "type": "quantitative", "scale": {"domain": [0, 2], "range": [4, 36]}, "axis": null}}},
{"data": {"values": [{}]},
 "mark": {"type": "text", "align": "left", "baseline": "middle", "dx": 3, "fontSize": 9.5, "text": "(位)", "color": "#222222"},
 "encoding": {"x": {"datum": 23, "type": "quantitative", "scale": {"domain": [0, 23]}, "axis": null}, "y": {"datum": 1.5, "type": "quantitative", "scale": {"domain": [0, 2], "range": [4, 36]}, "axis": null}}},
{"data": {"values": [{}]},
 "mark": {"type": "rect", "fillOpacity": 0, "stroke": "#000000", "strokeWidth": 2},
 "encoding": {"x": {"datum": -3.89, "type": "quantitative", "scale": {"domain": [0, 23]}, "axis": null}, "x2": {"datum": 23}, "y": {"datum": 0, "type": "quantitative", "scale": {"domain": [0, 2], "range": [4, 36]}, "axis": null}, "y2": {"datum": 2}}}
]
}
]
}
